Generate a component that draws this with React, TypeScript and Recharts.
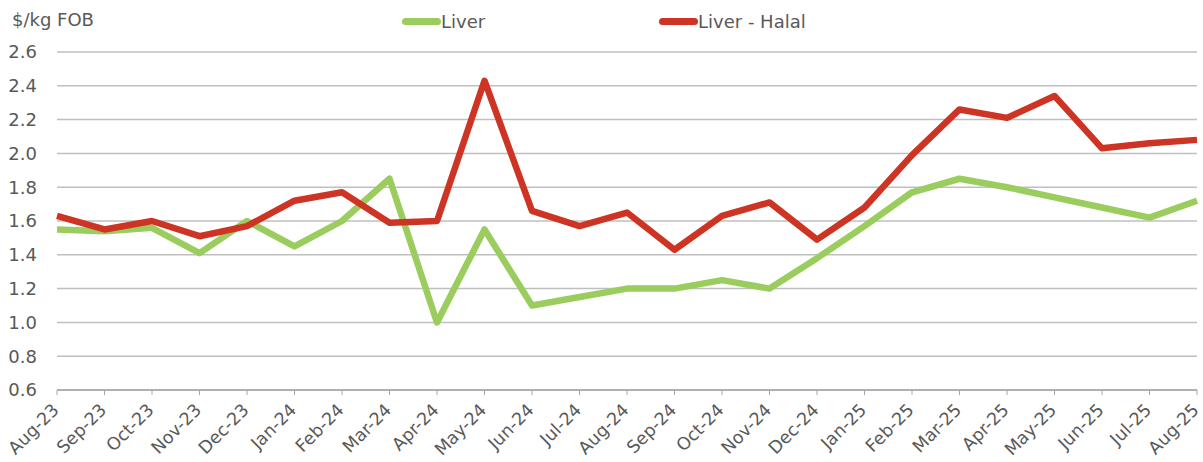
import { LineChart, Line, XAxis, YAxis, CartesianGrid } from 'recharts'

const months = [
  'Aug-23', 'Sep-23', 'Oct-23', 'Nov-23', 'Dec-23', 'Jan-24', 'Feb-24', 'Mar-24', 'Apr-24',
  'May-24', 'Jun-24', 'Jul-24', 'Aug-24', 'Sep-24', 'Oct-24', 'Nov-24', 'Dec-24', 'Jan-25',
  'Feb-25', 'Mar-25', 'Apr-25', 'May-25', 'Jun-25', 'Jul-25', 'Aug-25',
]

const liver = [
  1.55, 1.54, 1.56, 1.41, 1.6, 1.45, 1.6, 1.85, 1.0, 1.55, 1.1, 1.15, 1.2,
  1.2, 1.25, 1.2, 1.38, 1.57, 1.77, 1.85, 1.8, 1.74, 1.68, 1.62, 1.72,
]

const liverHalal = [
  1.63, 1.55, 1.6, 1.51, 1.57, 1.72, 1.77, 1.59, 1.6, 2.43, 1.66, 1.57, 1.65,
  1.43, 1.63, 1.71, 1.49, 1.68, 1.99, 2.26, 2.21, 2.34, 2.03, 2.06, 2.08,
]

const yTicks = [0.6, 0.8, 1.0, 1.2, 1.4, 1.6, 1.8, 2.0, 2.2, 2.4, 2.6]

const GREEN = '#9ACD5E'
const RED = '#CD3423'
const TEXT = '#595959'
const FONT = '"DejaVu Sans", Verdana, sans-serif'

const data = months.map((m, i) => ({ month: m, liver: liver[i], halal: liverHalal[i] }))

// rotated month labels, end of text sits just right of / below the tick
function XTick(props: any) {
  const { x, y, payload } = props
  const tx = x + 3
  const ty = y + 14
  return (
    <text
      x={tx}
      y={ty}
      transform={`rotate(-45 ${tx} ${ty})`}
      textAnchor="end"
      fill={TEXT}
      fontSize={17.5}
      fontFamily={FONT}
    >
      {payload.value}
    </text>
  )
}

function LegendItem({ color, label, left }: { color: string; label: string; left: number }) {
  return (
    <div style={{ position: 'absolute', left, top: 11, display: 'flex', alignItems: 'center' }}>
      <div style={{ width: 39, height: 7, borderRadius: 3.5, background: color }} />
      <span style={{ fontFamily: FONT, fontSize: 18, color: TEXT, marginLeft: 0 }}>{label}</span>
    </div>
  )
}

export default function App() {
  return (
    <div style={{ position: 'absolute', left: 0, top: 0, width: 1203, height: 462, background: '#fff' }}>
      <div style={{ position: 'absolute', left: 12, top: 9, fontFamily: FONT, fontSize: 18, color: TEXT }}>
        $/kg FOB
      </div>
      <LegendItem color={GREEN} label="Liver" left={402} />
      <LegendItem color={RED} label="Liver - Halal" left={659} />
      <LineChart width={1203} height={462} data={data} margin={{ top: 52, right: 6, bottom: 0, left: 0 }}>
        <CartesianGrid vertical={false} stroke="#BFBFBF" strokeWidth={1.5} />
        <XAxis
          dataKey="month"
          interval={0}
          tick={<XTick />}
          tickSize={5}
          tickLine={{ stroke: '#A6A6A6' }}
          axisLine={{ stroke: '#A6A6A6', strokeWidth: 1.5 }}
          height={72}
          padding={{ left: 0, right: 0 }}
        />
        <YAxis
          domain={[0.6, 2.6]}
          ticks={yTicks}
          tickFormatter={(v: number) => v.toFixed(1)}
          tick={{ fill: TEXT, fontSize: 18, fontFamily: FONT }}
          tickLine={false}
          axisLine={false}
          tickMargin={14}
          width={57}
        />
        <Line
          type="linear"
          dataKey="liver"
          stroke={GREEN}
          strokeWidth={6.5}
          strokeLinejoin="round"
          dot={false}
          isAnimationActive={false}
        />
        <Line
          type="linear"
          dataKey="halal"
          stroke={RED}
          strokeWidth={6.5}
          strokeLinejoin="round"
          dot={false}
          isAnimationActive={false}
        />
      </LineChart>
    </div>
  )
}
